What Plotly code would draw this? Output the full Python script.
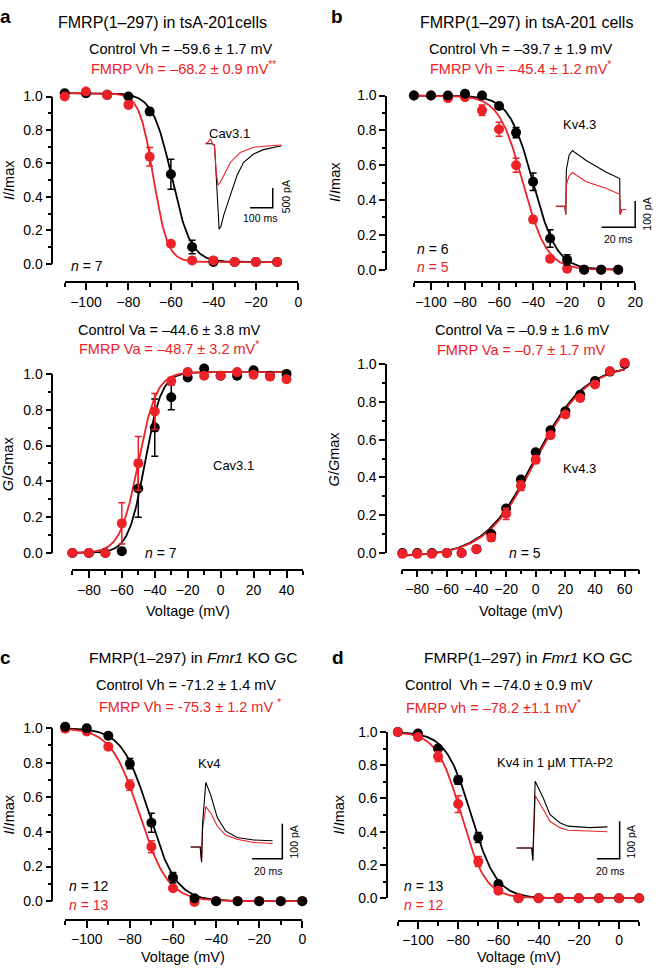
import numpy as np
import plotly.graph_objects as go

W, H = 661, 977
RED = '#ec2228'
BLK = '#000000'
FONT = 'Liberation Sans, Arial, sans-serif'

# ---------------- data ----------------
# a, top: Cav3.1 steady-state inactivation
a1_v = [-110, -100, -90, -80, -70, -60, -50, -40, -30, -20, -10]
a1_ctrl = [1.02, 1.02, 1.01, 1.00, 0.91, 0.535, 0.10, 0.01, 0.01, 0.01, 0.01]
a1_ctrl_err = [0, 0, 0, 0.01, 0.02, 0.09, 0.04, 0, 0, 0, 0]
a1_fmrp = [1.00, 1.03, 1.01, 0.95, 0.64, 0.12, 0.02, 0.02, 0.01, 0.01, 0.01]
a1_fmrp_err = [0, 0, 0, 0.01, 0.055, 0.01, 0, 0, 0, 0, 0]
a1_fit_ctrl = [-59.6, 4.5, 1.02, 0.01]   # V1/2, k, top, bottom
a1_fit_fmrp = [-68.2, 3.3, 1.02, 0.01]

# a, bottom: Cav3.1 activation
a2_v = [-90, -80, -70, -60, -50, -40, -30, -20, -10, 0, 10, 20, 30, 40]
a2_ctrl = [0.0, 0.0, 0.0, 0.01, 0.36, 0.70, 0.87, 0.98, 1.03, 0.99, 0.99, 1.02, 0.99, 1.00]
a2_ctrl_err = [0, 0, 0, 0, 0.16, 0.16, 0.07, 0, 0, 0, 0, 0, 0, 0]
a2_fmrp = [0.0, 0.0, 0.0, 0.165, 0.50, 0.79, 0.96, 1.01, 0.99, 0.99, 1.01, 0.995, 0.985, 0.97]
a2_fmrp_err = [0, 0, 0, 0.115, 0.15, 0.10, 0.02, 0, 0, 0, 0, 0, 0, 0]
a2_fit_ctrl = [-46.0, 5.0, 1.01, 0.0]
a2_fit_fmrp = [-50.0, 5.5, 1.01, 0.0]

# b, top: Kv4.3 inactivation
b1_v = [-110, -100, -90, -80, -70, -60, -50, -40, -30, -20, -10, 0, 10]
b1_ctrl = [1.0, 1.0, 1.0, 1.01, 1.0, 0.94, 0.787, 0.505, 0.179, 0.056, 0.0, 0.0, 0.0]
b1_ctrl_err = [0, 0, 0, 0.01, 0, 0.01, 0.03, 0.05, 0.05, 0.03, 0, 0, 0]
b1_fmrp = [1.0, 1.0, 0.985, 0.99, 0.915, 0.806, 0.60, 0.288, 0.062, 0.005, 0.0, 0.0, 0.0]
b1_fmrp_err = [0, 0, 0.01, 0.01, 0.03, 0.04, 0.04, 0.02, 0.01, 0, 0, 0, 0]
b1_fit_ctrl = [-40.0, 7.0, 1.0, 0.0]
b1_fit_fmrp = [-46.0, 7.0, 1.0, 0.0]

# b, bottom: Kv4.3 activation
b2_v = [-90, -80, -70, -60, -50, -40, -30, -20, -10, 0, 10, 20, 30, 40, 50, 60]
b2_ctrl = [0.0, 0.0, 0.0, 0.0, 0.0, 0.02, 0.10, 0.235, 0.389, 0.533, 0.65, 0.75, 0.837, 0.91, 0.96, 1.0]
b2_ctrl_err = [0, 0, 0, 0, 0, 0, 0.01, 0.01, 0.01, 0.01, 0.01, 0.01, 0.01, 0.01, 0, 0]
b2_fmrp = [-0.005, -0.005, -0.005, 0.0, 0.0, 0.02, 0.082, 0.207, 0.356, 0.494, 0.623, 0.733, 0.82, 0.892, 0.962, 1.007]
b2_fmrp_err = [0, 0, 0, 0, 0, 0, 0.02, 0.03, 0.025, 0.02, 0.015, 0.015, 0.015, 0.01, 0.01, 0.01]
b2_fit_ctrl = [-1.0, 17.0, 1.0, -0.02]
b2_fit_fmrp = [0.0, 17.0, 1.0, -0.02]

# c: Kv4 inactivation in Fmr1 KO GC
c_v = [-110, -100, -90, -80, -70, -60, -50, -40, -30, -20, -10, 0]
c_ctrl = [1.007, 0.998, 0.955, 0.794, 0.453, 0.136, 0.017, 0.0, 0.0, 0.0, 0.0, 0.0]
c_ctrl_err = [0, 0, 0.01, 0.03, 0.055, 0.03, 0, 0, 0, 0, 0, 0]
c_fmrp = [0.996, 0.98, 0.892, 0.67, 0.314, 0.074, -0.005, 0.0, 0.0, 0.0, 0.0, 0.0]
c_fmrp_err = [0, 0.01, 0.015, 0.03, 0.035, 0.01, 0, 0, 0, 0, 0, 0]
c_fit_ctrl = [-71.0, 6.3, 1.0, 0.0]
c_fit_fmrp = [-75.5, 6.6, 1.0, 0.0]

# d: Kv4 inactivation in 1 uM TTA-P2
d_v = [-110, -100, -90, -80, -70, -60, -50, -40, -30, -20, -10, 0, 10]
d_ctrl = [1.0, 0.99, 0.90, 0.71, 0.365, 0.085, 0.0, 0.0, 0.0, 0.0, 0.0, 0.0, 0.0]
d_ctrl_err = [0, 0, 0.01, 0.025, 0.03, 0.01, 0, 0, 0, 0, 0, 0, 0]
d_fmrp = [1.0, 0.97, 0.852, 0.566, 0.22, 0.045, 0.0, 0.0, 0.0, 0.0, 0.0, 0.0, 0.0]
d_fmrp_err = [0, 0.01, 0.03, 0.05, 0.03, 0.01, 0, 0, 0, 0, 0, 0, 0]
d_fit_ctrl = [-73.5, 6.3, 1.0, 0.0]
d_fit_fmrp = [-78.5, 6.0, 1.0, 0.0]

# inset current traces (time in ms, current in pA)
ia_t_ctrl = [0, 10, 30, 40, 50, 60, 68, 81, 110, 139, 168, 212, 255, 335]
ia_i_ctrl = [0, 0, 0, -50, -1200, -2175, -2100, -1800, -1300, -800, -470, -260, -150, -50]
ia_t_fmrp = [0, 9, 23, 30, 39, 47, 55, 65, 81, 110, 153, 212, 284, 335]
ia_i_fmrp = [0, 30, 120, 0, -25, -700, -1050, -980, -800, -470, -220, -90, -50, -30]
ia_bar_t = [196, 296, 296]
ia_bar_i = [-1625, -1625, -1125]

ib_t = [0, 5.3, 5.9, 6.2, 7.8, 9.8, 18, 29.8, 38, 38.2, 39.2, 41.5]
ib_i_ctrl = [0, 0, -31, 138, 194, 213, 175, 131, 106, -31, -12, -12]
ib_i_fmrp = [0, 0, -31, 81, 115, 129, 94, 69, 46, -31, -12, -12]
ib_bar_t = [27.2, 47.2, 47.2]
ib_bar_i = [-79, -79, 21]

ic_t = [0, 6.3, 7.2, 7.8, 10, 13.2, 17.6, 23, 30.6, 41.5, 54]
ic_i_ctrl = [0, 0, -43, 64, 184, 148, 83, 46, 27, 20, 18]
ic_i_fmrp = [0, 0, -43, 50, 115, 97, 59, 34, 22, 13, 10]
ic_bar_t = [40.4, 60.4, 60.4]
ic_bar_i = [-33.6, -33.6, 66.4]

id_t = [0, 13.3, 14.2, 15, 16.3, 23.5, 29.3, 38, 45.2, 64.1, 80]
id_i_ctrl = [0, 0, -33, 60, 177, 132, 89, 67, 58, 54, 56]
id_i_fmrp = [0, 0, -33, 50, 139, 102, 71, 54, 47, 45, 43]
id_bar_t = [70.7, 90.7, 90.7]
id_bar_i = [-28.7, -28.7, 71.3]


def inact(v, p):
    vh, k, top, bot = p
    return bot + (top - bot) / (1 + np.exp((v - vh) / k))


def act(v, p):
    va, k, top, bot = p
    return bot + (top - bot) / (1 + np.exp((va - v) / k))


def fx(p):
    return p / W


def fy(p):
    return 1 - p / H


fig = go.Figure()
DATA_OFFSET = 10  # data axes are x11..x16 / y11..y16, invisible, padded ranges


def add_panel(n, v, ctrl, ctrl_err, fmrp, fmrp_err, fit_c, fit_f, fitfun, fit_range, red_on_top):
    # empty trace so the visible (frame) axes get drawn
    fig.add_trace(go.Scatter(x=[None], y=[None], mode='markers', hoverinfo='skip',
                             xaxis='x' if n == 1 else f'x{n}', yaxis='y' if n == 1 else f'y{n}'))
    m = n + DATA_OFFSET
    ax = dict(xaxis=f'x{m}', yaxis=f'y{m}')
    vv = np.linspace(fit_range[0], fit_range[1], 300)
    fig.add_trace(go.Scatter(x=vv, y=fitfun(vv, fit_c), mode='lines',
                             line=dict(color=BLK, width=1.8), hoverinfo='skip', **ax))
    fig.add_trace(go.Scatter(x=vv, y=fitfun(vv, fit_f), mode='lines',
                             line=dict(color=RED, width=1.8), hoverinfo='skip', **ax))
    sets = [(ctrl, ctrl_err, BLK), (fmrp, fmrp_err, RED)]
    if not red_on_top:
        sets = sets[::-1]
    for y, e, col in sets:
        fig.add_trace(go.Scatter(x=v, y=y, mode='markers',
                                 marker=dict(color=col, size=10),
                                 error_y=dict(type='data', array=e, color=col, thickness=1.5, width=3.5),
                                 **ax))


add_panel(1, a1_v, a1_ctrl, a1_ctrl_err, a1_fmrp, a1_fmrp_err, a1_fit_ctrl, a1_fit_fmrp, inact, [-110, -10], True)
add_panel(2, a2_v, a2_ctrl, a2_ctrl_err, a2_fmrp, a2_fmrp_err, a2_fit_ctrl, a2_fit_fmrp, act, [-88, 40], True)
add_panel(3, b1_v, b1_ctrl, b1_ctrl_err, b1_fmrp, b1_fmrp_err, b1_fit_ctrl, b1_fit_fmrp, inact, [-110, 10], False)
add_panel(4, b2_v, b2_ctrl, b2_ctrl_err, b2_fmrp, b2_fmrp_err, b2_fit_ctrl, b2_fit_fmrp, act, [-90, 60], True)
add_panel(5, c_v, c_ctrl, c_ctrl_err, c_fmrp, c_fmrp_err, c_fit_ctrl, c_fit_fmrp, inact, [-110, 0], False)
add_panel(6, d_v, d_ctrl, d_ctrl_err, d_fmrp, d_fmrp_err, d_fit_ctrl, d_fit_fmrp, inact, [-110, 10], True)


def add_inset(n, t_c, i_c, t_f, i_f, bt, bi, red_on_top):
    ax = dict(xaxis=f'x{n}', yaxis=f'y{n}')
    tr = [(t_c, i_c, BLK), (t_f, i_f, RED)]
    if not red_on_top:
        tr = tr[::-1]
    for t, i, col in tr:
        fig.add_trace(go.Scatter(x=t, y=i, mode='lines', line=dict(color=col, width=1.1),
                                 hoverinfo='skip', **ax))
    fig.add_trace(go.Scatter(x=bt, y=bi, mode='lines', line=dict(color=BLK, width=1.5),
                             hoverinfo='skip', **ax))


add_inset(7, ia_t_ctrl, ia_i_ctrl, ia_t_fmrp, ia_i_fmrp, ia_bar_t, ia_bar_i, True)
add_inset(8, ib_t, ib_i_ctrl, ib_t, ib_i_fmrp, ib_bar_t, ib_bar_i, True)
add_inset(9, ic_t, ic_i_ctrl, ic_t, ic_i_fmrp, ic_bar_t, ic_bar_i, False)
add_inset(10, id_t, id_i_ctrl, id_t, id_i_fmrp, id_bar_t, id_bar_i, False)

# ---------------- layout ----------------
panels = [
    dict(xr=[-110, 0], xpx=[65.5, 302], ypx=[260, 90], xline=278.5, yline=53),
    dict(xr=[-90, 50], xpx=[73.3, 306.7], ypx=[554, 372], xline=571.5, yline=53),
    dict(xr=[-110, 20], xpx=[419, 643], ypx=[266, 89], xline=279, yline=391),
    dict(xr=[-90, 70], xpx=[407.3, 647.3], ypx=[554, 362], xline=571, yline=391),
    dict(xr=[-110, 0], xpx=[66, 306], ypx=[908, 732], xline=927, yline=53),
    dict(xr=[-110, 10], xpx=[402.7, 647], ypx=[905, 736], xline=928, yline=392),
]
XPAD, YPAD = 4.0, 0.08

tickfont = dict(family=FONT, size=14, color='black')
layout = dict(width=W, height=H, margin=dict(l=0, r=0, t=0, b=0),
              paper_bgcolor='white', plot_bgcolor='rgba(0,0,0,0)', showlegend=False,
              font=dict(family=FONT, color='black'))

for i, p in enumerate(panels, start=1):
    xa = 'xaxis' if i == 1 else f'xaxis{i}'
    ya = 'yaxis' if i == 1 else f'yaxis{i}'
    layout[xa] = dict(domain=[fx(p['xpx'][0]), fx(p['xpx'][1])], range=p['xr'],
                      anchor='free', position=fy(p['xline']),
                      showline=True, linecolor='black', linewidth=1.6,
                      ticks='outside', ticklen=7, tickwidth=1.5, tickcolor='black',
                      tick0=0, dtick=20,
                      minor=dict(ticks='outside', ticklen=4, tickwidth=1.5, tickcolor='black',
                                 tick0=0, dtick=10, showgrid=False),
                      showgrid=False, zeroline=False, tickfont=tickfont, fixedrange=True)
    layout[ya] = dict(domain=[fy(p['ypx'][0]), fy(p['ypx'][1])], range=[0, 1],
                      anchor='free', position=fx(p['yline']),
                      showline=True, linecolor='black', linewidth=1.6,
                      ticks='outside', ticklen=6, tickwidth=1.5, tickcolor='black',
                      tick0=0, dtick=0.2, tickformat='.1f',
                      minor=dict(ticks='outside', ticklen=3.5, tickwidth=1.5, tickcolor='black',
                                 tick0=0, dtick=0.1, showgrid=False),
                      showgrid=False, zeroline=False, tickfont=tickfont, fixedrange=True)
    # invisible data axes with padded range mapping onto the same pixels
    m = i + DATA_OFFSET
    sx = (p['xpx'][1] - p['xpx'][0]) / (p['xr'][1] - p['xr'][0])
    sy = (p['ypx'][0] - p['ypx'][1])
    layout[f'xaxis{m}'] = dict(domain=[fx(p['xpx'][0] - XPAD * sx), fx(p['xpx'][1] + XPAD * sx)],
                               range=[p['xr'][0] - XPAD, p['xr'][1] + XPAD],
                               anchor=f'y{m}', visible=False, fixedrange=True)
    layout[f'yaxis{m}'] = dict(domain=[fy(p['ypx'][0] + YPAD * sy), fy(p['ypx'][1] - YPAD * sy)],
                               range=[-YPAD, 1 + YPAD],
                               anchor=f'x{m}', visible=False, fixedrange=True)

insets = [
    dict(n=7, xpx=[204, 300], ypx=[232, 128], xr=[-17.4, 400.0], yr=[-2350, 250]),
    dict(n=8, xpx=[560, 648], ypx=[226, 140], xr=[-1.59, 50.16], yr=[-91.1, 231.4]),
    dict(n=9, xpx=[190, 290], ypx=[872, 782], xr=[-1.95, 63.15], yr=[-53.2, 198.8]),
    dict(n=10, xpx=[520, 632], ypx=[870, 780], xr=[-2.61, 94.83], yr=[-41.8, 193.1]),
]
for q in insets:
    n = q['n']
    layout[f'xaxis{n}'] = dict(domain=[fx(q['xpx'][0]), fx(q['xpx'][1])], range=q['xr'],
                               anchor=f'y{n}', visible=False, fixedrange=True)
    layout[f'yaxis{n}'] = dict(domain=[fy(q['ypx'][0]), fy(q['ypx'][1])], range=q['yr'],
                               anchor=f'x{n}', visible=False, fixedrange=True)

anns = []


def ann(text, x, y, size=14, color=BLK, xanchor='center', angle=0, bold=False):
    if bold:
        text = f'<b>{text}</b>'
    anns.append(dict(text=text, x=fx(x), y=fy(y), xref='paper', yref='paper',
                     xanchor=xanchor, yanchor='middle', showarrow=False, textangle=angle,
                     font=dict(family=FONT, size=size, color=color)))


# panel letters
ann('a', 6, 9, 19, bold=True)
ann('b', 341, 9, 19, bold=True)
ann('c', 6, 660, 19, bold=True)
ann('d', 342, 660, 19, bold=True)

# headers
ann('FMRP(1–297) in tsA-201cells', 57, 15, 16, xanchor='left')
ann('Control Vh = –59.6 ± 1.7 mV', 88, 42, 14.5, xanchor='left')
ann('FMRP Vh = –68.2 ± 0.9 mV<sup>**</sup>', 90, 61, 14.5, RED, xanchor='left')
ann('Control Va = –44.6 ± 3.8 mV', 77, 327, 14.5, xanchor='left')
ann('FMRP Va = –48.7 ± 3.2 mV<sup>*</sup>', 78, 346, 14.5, RED, xanchor='left')

ann('FMRP(1–297) in tsA-201 cells', 423, 15, 16, xanchor='left')
ann('Control Vh = –39.7 ± 1.9 mV', 432, 42, 14.5, xanchor='left')
ann('FMRP Vh = –45.4 ± 1.2 mV<sup>*</sup>', 433, 61, 14.5, RED, xanchor='left')
ann('Control Va = –0.9 ± 1.6 mV', 438, 327, 14.5, xanchor='left')
ann('FMRP Va = –0.7 ± 1.7 mV', 440, 348, 14.5, RED, xanchor='left')

ann('FMRP(1–297) in <i>Fmr1</i> KO GC', 88, 660, 15.5, xanchor='left')
ann('Control Vh = -71.2 ± 1.4 mV', 95, 688, 14.5, xanchor='left')
ann('FMRP Vh = -75.3 ± 1.2 mV <sup>*</sup>', 98, 710, 14.5, RED, xanchor='left')

ann('FMRP(1–297) in <i>Fmr1</i> KO GC', 427, 660, 15.5, xanchor='left')
ann('Control\u00a0\u00a0Vh = –74.0 ± 0.9 mV', 408, 688, 14.5, xanchor='left')
ann('FMRP vh = –78.2 ±1.1 mV<sup>*</sup>', 409, 711, 14.5, RED, xanchor='left')

# axis titles
ann('<i>I</i>/<i>I</i>max', 9, 175, 14.5, angle=-90)
ann('<i>G</i>/<i>G</i>max', 9, 463, 14.5, angle=-90)
ann('<i>I</i>/<i>I</i>max', 339, 177, 14.5, angle=-90)
ann('<i>G</i>/<i>G</i>max', 339, 458, 14.5, angle=-90)
ann('<i>I</i>/<i>I</i>max', 9, 820, 14.5, angle=-90)
ann('<i>I</i>/<i>I</i>max', 343, 820, 14.5, angle=-90)
ann('Voltage (mV)', 190, 613, 14.5)
ann('Voltage (mV)', 527, 613, 14.5)
ann('Voltage (mV)', 185, 965, 14.5)
ann('Voltage (mV)', 525, 965, 14.5)

# n labels
ann('<i>n</i> = 7', 70, 262, 14, xanchor='left')
ann('<i>n</i> = 7', 145, 554, 14, xanchor='left')
ann('<i>n</i> = 6', 420, 245, 14, xanchor='left')
ann('<i>n</i> = 5', 420, 263, 14, RED, xanchor='left')
ann('<i>n</i> = 5', 513, 554, 14, xanchor='left')
ann('<i>n</i> = 12', 68, 893, 14, xanchor='left')
ann('<i>n</i> = 13', 68, 912, 14, RED, xanchor='left')
ann('<i>n</i> = 13', 407, 893, 14, xanchor='left')
ann('<i>n</i> = 12', 407, 912, 14, RED, xanchor='left')

# inset / channel labels
ann('Cav3.1', 232, 128, 13)
ann('Cav3.1', 236, 465, 13)
ann('Kv4.3', 587, 118, 13)
ann('Kv4.3', 587, 468, 13)
ann('Kv4', 212, 768, 13)
ann('Kv4 in 1 μM TTA-P2', 562, 767, 13)
ann('100 ms', 263, 214, 10.5)
ann('500 pA', 289, 192, 10.5, angle=-90)
ann('20 ms', 626, 235, 10.5)
ann('100 pA', 654, 210, 10.5, angle=-90)
ann('20 ms', 272, 877, 10.5)
ann('100 pA', 298, 848, 10.5, angle=-90)
ann('20 ms', 618, 877, 10.5)
ann('100 pA', 639, 848, 10.5, angle=-90)

layout['annotations'] = anns
fig.update_layout(**layout)
fig.write_html('out.html', config={'displayModeBar': False},
               post_script="document.body.style.margin='0';document.body.style.overflow='hidden';")
